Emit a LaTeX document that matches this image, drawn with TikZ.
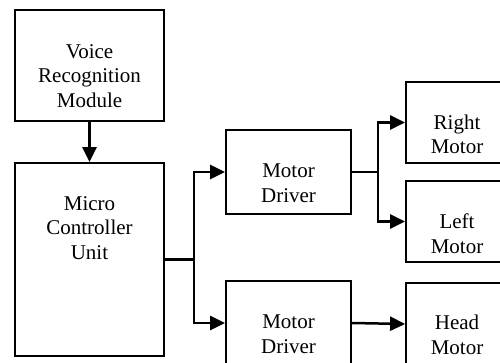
\documentclass[tikz,border=0pt]{standalone}
\usepackage{fontspec}
\setmainfont{Liberation Serif}
\usetikzlibrary{arrows.meta}
\begin{document}
\begin{tikzpicture}[x=1pt,y=-1pt,
  box/.style={draw,line width=1.8pt,rectangle,inner sep=0pt},
  lbl/.style={align=center,inner sep=0pt,font=\rmfamily\fontsize{21}{24.5}\selectfont},
  conn/.style={line width=2.5pt},
  arr/.style={conn,-{Triangle[length=15pt,width=14pt]}}]
\clip (0,0) rectangle (500,363);
\node[box,minimum width=149pt,minimum height=111pt] (vrm) at (89.5,65.5) {};
\node[box,minimum width=149pt,minimum height=193pt] (mcu) at (89.5,259.5) {};
\node[box,minimum width=125pt,minimum height=84pt] (md1) at (288.5,172) {};
\node[box,minimum width=125pt,minimum height=84pt] (md2) at (288.5,323) {};
\node[box,minimum width=102pt,minimum height=81pt] (rm) at (457,122.5) {};
\node[box,minimum width=102pt,minimum height=81pt] (lm) at (457,221.5) {};
\node[box,minimum width=102pt,minimum height=82pt] (hm) at (457,324) {};
\node[lbl] (tvrm) at ([yshift=-10.5pt]vrm.center) {Voice\\Recognition\\Module};
\node[lbl] (tmcu) at ([yshift=31.5pt]mcu.center) {Micro\\Controller\\Unit};
\node[lbl] (tmd1) at ([yshift=-11pt]md1.center) {Motor\\Driver};
\node[lbl] (tmd2) at ([yshift=-11pt]md2.center) {Motor\\Driver};
\node[lbl] (trm) at ([yshift=-12pt]rm.center) {Right\\Motor};
\node[lbl] (tlm) at ([yshift=-12pt]lm.center) {Left\\Motor};
\node[lbl] (thm) at ([yshift=-11pt]hm.center) {Head\\Motor};
\coordinate (j1) at (194,259.5);
\coordinate (j2) at (378,172);
\draw[arr] (vrm.south) -- (mcu.north);
\draw[conn] (mcu.east) -- (j1);
\draw[arr] (j1) |- (md1.west);
\draw[arr] (j1) |- (md2.west);
\draw[conn] (md1.east) -- (j2);
\draw[arr] (j2) |- (rm.west);
\draw[arr] (j2) |- (lm.west);
\draw[arr] (md2.east) -- (hm.west);
\end{tikzpicture}
\end{document}
